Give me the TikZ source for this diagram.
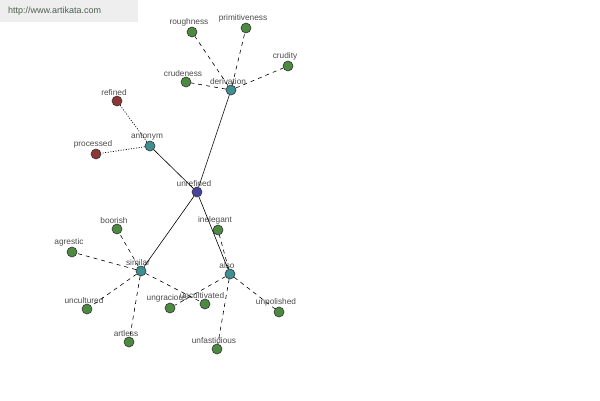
\documentclass[tikz,border=0pt]{standalone}
\usepackage{fontspec}
\setmainfont{Liberation Sans}
\begin{document}
\begin{tikzpicture}[x=1pt,y=-1pt,
  dot/.style={circle,draw=black!80,line width=0.6pt,minimum size=10pt,inner sep=0pt,
    label={[lbl]above:#1}},
  lbl/.style={text=black!70,font=\fontsize{8.3}{9}\selectfont,inner sep=0.5pt,xshift=-3pt,yshift=-0.5pt},
  hub/.style={dot=#1,fill=tealc},
  leaf/.style={dot=#1,fill=greenc},
  ant/.style={dot=#1,fill=redc},
  solidl/.style={draw=black,line width=0.6pt},
  dashl/.style={draw=black,line width=0.6pt,dash pattern=on 4pt off 4pt},
  dotl/.style={draw=black,line width=0.7pt,dash pattern=on 1pt off 1.6pt}]
\definecolor{tealc}{HTML}{3E8F91}
\definecolor{greenc}{HTML}{4C8A42}
\definecolor{redc}{HTML}{8E3535}
\definecolor{bluec}{HTML}{4444A0}
\definecolor{hdr}{HTML}{EEEEEE}
\definecolor{hdrtext}{HTML}{4F5F4F}
\useasboundingbox (0,0) rectangle (600,400);
\fill[white] (0,0) rectangle (600,400);
\fill[hdr] (0,0) rectangle (138,22);
\node[anchor=west,text=hdrtext,font=\fontsize{9}{10}\selectfont,inner sep=0pt] (url) at (8,11) {http://www.artikata.com};

\node[dot=unrefined,fill=bluec] (unrefined) at (197,192) {};
\node[hub=derivation] (derivation) at (231,90) {};
\node[hub=antonym] (antonym) at (150,146) {};
\node[hub=similar] (similar) at (141,271) {};
\node[hub=also] (also) at (230,274) {};

\node[leaf=roughness] (roughness) at (192,32) {};
\node[leaf=primitiveness] (primitiveness) at (246,28) {};
\node[leaf=crudity] (crudity) at (288,66) {};
\node[leaf=crudeness] (crudeness) at (186,82) {};
\node[ant=refined] (refined) at (117,101) {};
\node[ant=processed] (processed) at (96,154) {};
\node[leaf=boorish] (boorish) at (117,229) {};
\node[leaf=agrestic] (agrestic) at (72,252) {};
\node[leaf=uncultured] (uncultured) at (87,309) {};
\node[leaf=artless] (artless) at (129,342) {};
\node[leaf=ungracious] (ungracious) at (170,308) {};
\node[leaf=uncultivated] (uncultivated) at (205,304) {};
\node[leaf=inelegant] (inelegant) at (218,230) {};
\node[leaf=unpolished] (unpolished) at (279,312) {};
\node[leaf=unfastidious] (unfastidious) at (217,349) {};

\draw[solidl] (unrefined) -- (derivation);
\draw[solidl] (unrefined) -- (antonym);
\draw[solidl] (unrefined) -- (similar);
\draw[solidl] (unrefined) -- (also);

\draw[dashl] (derivation) -- (roughness);
\draw[dashl] (derivation) -- (primitiveness);
\draw[dashl] (derivation) -- (crudity);
\draw[dashl] (derivation) -- (crudeness);

\draw[dotl] (antonym) -- (refined);
\draw[dotl] (antonym) -- (processed);

\draw[dashl] (similar) -- (boorish);
\draw[dashl] (similar) -- (agrestic);
\draw[dashl] (similar) -- (uncultured);
\draw[dashl] (similar) -- (artless);
\draw[dashl] (similar) -- (uncultivated);

\draw[dashl] (also) -- (inelegant);
\draw[dashl] (also) -- (ungracious);
\draw[dashl] (also) -- (unpolished);
\draw[dashl] (also) -- (unfastidious);
\end{tikzpicture}
\end{document}
